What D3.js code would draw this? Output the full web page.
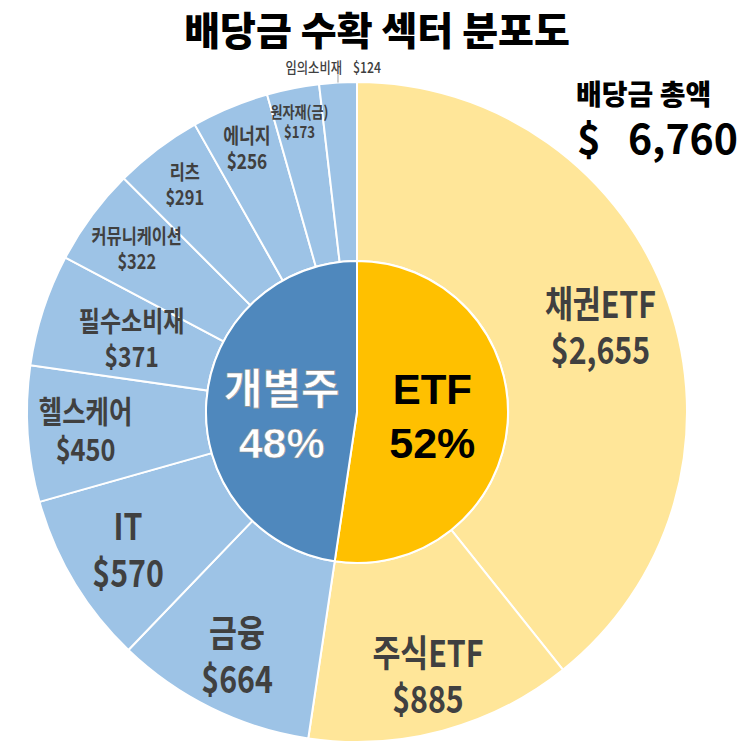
<!DOCTYPE html>
<html>
<head>
<meta charset="utf-8">
<script src="https://cdn.jsdelivr.net/npm/d3@7"></script>
<style>
  body { margin: 0; background: #fff; }
  text { font-family: "Noto Sans CJK KR", "Noto Sans", sans-serif; }
</style>
</head>
<body>
<div id="wrapper"></div>
<script>
// data
const sectors = ["채권ETF", "주식ETF", "금융", "IT", "헬스케어", "필수소비재", "커뮤니케이션", "리츠", "에너지", "원자재(금)", "임의소비재"];
const amounts = [2655, 885, 664, 570, 450, 371, 322, 291, 256, 173, 124];
const groupOf = ["ETF", "ETF", "개별주", "개별주", "개별주", "개별주", "개별주", "개별주", "개별주", "개별주", "개별주"];
const groups = ["ETF", "개별주"];
const groupPercents = ["52%", "48%"];
const totalLabel = "6,760";

function drawChart() {
  const width = 743;
  const height = 743;
  const cx = 357, cy = 412;
  const innerR = 151, outerR = 330;

  const svg = d3.select('#wrapper').append('svg')
    .attr('width', width)
    .attr('height', height);

  // title
  svg.append('text')
    .attr('x', 377).attr('y', 45)
    .attr('text-anchor', 'middle')
    .style('font-size', '39px').style('font-weight', 900)
    .text('배당금 수확 섹터 분포도');

  const data = sectors.map((s, i) => ({ name: s, value: amounts[i], group: groupOf[i] }));

  const pie = d3.pie().sort(null).value(d => d.value);
  const arcs = pie(data);

  // inner ring uses the outer angles so the edges line up
  const innerArcs = groups.map(g => {
    const a = arcs.filter(d => d.data.group === g);
    return { name: g, startAngle: d3.min(a, d => d.startAngle), endAngle: d3.max(a, d => d.endAngle) };
  });

  const outerColor = d3.scaleOrdinal().domain(groups).range(['#ffe699', '#9dc3e6']);
  const innerColor = d3.scaleOrdinal().domain(groups).range(['#ffc000', '#4f88bd']);

  const bounds = svg.append('g').attr('transform', `translate(${cx},${cy})`);

  const outerArc = d3.arc().innerRadius(innerR).outerRadius(outerR);
  const innerArc = d3.arc().innerRadius(0).outerRadius(innerR);

  bounds.append('g').selectAll('path')
    .data(arcs).join('path')
    .attr('d', outerArc)
    .attr('fill', d => outerColor(d.data.group))
    .attr('stroke', '#fff').attr('stroke-width', 2);

  bounds.append('g').selectAll('path')
    .data(innerArcs).join('path')
    .attr('d', innerArc)
    .attr('fill', d => innerColor(d.name))
    .attr('stroke', '#fff').attr('stroke-width', 2);

  // outer labels: radius of the label centre and font size
  const labelStyle = {
    "채권ETF": { r: 258, size: 37 },
    "주식ETF": { r: 273, size: 37 },
    "금융": { r: 272, size: 37 },
    "IT": { r: 267, size: 37 },
    "헬스케어": { r: 272, size: 31 },
    "필수소비재": { r: 237, size: 28 },
    "커뮤니케이션": { r: 274, size: 20 },
    "리츠": { r: 285, size: 20 },
    "에너지": { r: 286, size: 21 },
    "원자재(금)": { r: 296, size: 16 },
  };
  const labels = bounds.append('g').selectAll('g')
    .data(arcs.filter(d => labelStyle[d.data.name])).join('g')
    .attr('transform', d => {
      const st = labelStyle[d.data.name];
      const [x, y] = d3.arc().innerRadius(st.r).outerRadius(st.r).centroid(d);
      return `translate(${x},${y}) scale(0.82,1)`;
    });
  labels.append('text')
    .attr('text-anchor', 'middle')
    .attr('y', d => -0.245 * labelStyle[d.data.name].size)
    .attr('fill', '#404040')
    .style('font-weight', 700)
    .style('font-size', d => labelStyle[d.data.name].size + 'px')
    .text(d => d.data.name);
  labels.append('text')
    .attr('text-anchor', 'middle')
    .attr('y', d => 1.005 * labelStyle[d.data.name].size)
    .attr('fill', '#404040')
    .style('font-weight', 700)
    .style('font-size', d => labelStyle[d.data.name].size + 'px')
    .text(d => '$' + d3.format(',')(d.data.value));

  // leader label for the smallest slice
  const last = arcs[arcs.length - 1];
  const mid = (last.startAngle + last.endAngle) / 2;
  const lx = Math.sin(mid) * outerR, ly = -Math.cos(mid) * outerR;
  bounds.append('line')
    .attr('x1', lx).attr('y1', ly)
    .attr('x2', lx).attr('y2', ly - 8)
    .attr('stroke', '#a0a0a0').attr('stroke-width', 1);
  bounds.append('text')
    .attr('transform', `translate(${lx + 4},${ly - 10}) scale(0.82,1)`)
    .attr('text-anchor', 'end')
    .attr('fill', '#404040')
    .style('font-size', '15px').style('font-weight', 500)
    .text(last.data.name);
  bounds.append('text')
    .attr('transform', `translate(${lx + 15},${ly - 10}) scale(0.82,1)`)
    .attr('fill', '#404040')
    .style('font-size', '15px').style('font-weight', 500)
    .text('$' + last.data.value);

  // inner labels
  const innerText = bounds.append('g').selectAll('g')
    .data(innerArcs).join('g')
    .attr('transform', d => {
      const [x] = innerArc.centroid(d);
      return `translate(${x},0)`;
    });
  innerText.append('text')
    .attr('text-anchor', 'middle')
    .attr('y', -8)
    .attr('fill', d => d.name === 'ETF' ? '#000' : '#fff')
    .attr('stroke', d => d.name === 'ETF' ? 'none' : '#8a8a8a')
    .attr('stroke-width', 0.6)
    .style('font-family', '"Liberation Sans", "Noto Sans CJK KR", sans-serif')
    .style('font-size', '42px').style('font-weight', 700)
    .text(d => d.name);
  innerText.append('text')
    .attr('text-anchor', 'middle')
    .attr('y', 46)
    .attr('fill', d => d.name === 'ETF' ? '#000' : '#fff')
    .attr('stroke', d => d.name === 'ETF' ? 'none' : '#8a8a8a')
    .attr('stroke-width', 0.6)
    .style('font-family', '"Liberation Sans", sans-serif')
    .style('font-size', '43px').style('font-weight', 700)
    .text((d, i) => groupPercents[i]);

  // total
  svg.append('text')
    .attr('x', 576).attr('y', 105)
    .style('font-size', '28px').style('font-weight', 900)
    .text('배당금 총액');
  svg.append('text')
    .attr('x', 577).attr('y', 154)
    .style('font-size', '40px').style('font-weight', 700)
    .text('$');
  svg.append('text')
    .attr('x', 738).attr('y', 154)
    .attr('text-anchor', 'end')
    .style('font-size', '41px').style('font-weight', 700)
    .text(totalLabel);
}
drawChart();
</script>
</body>
</html>
